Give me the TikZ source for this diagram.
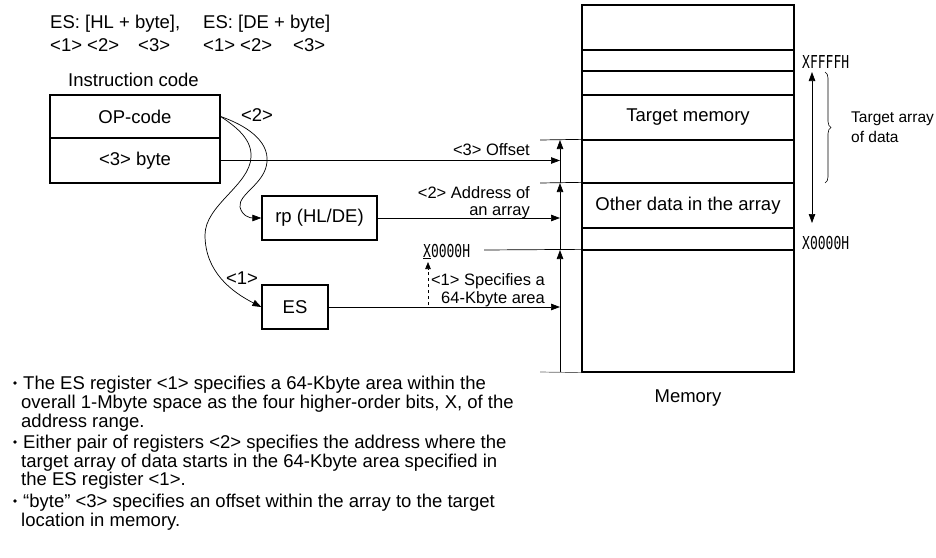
\documentclass[tikz,border=0pt]{standalone}
\usepackage{fontspec}
\setmainfont{Liberation Sans}
\newfontfamily\addrfont[FakeStretch=0.73]{DejaVu Sans Mono}
\usetikzlibrary{arrows.meta,decorations.pathreplacing}
\begin{document}
\begin{tikzpicture}[x=1pt,y=-1pt,
  lbl/.style={inner sep=0pt,font=\fontsize{18.5}{20}\selectfont},
  slbl/.style={inner sep=0pt,font=\fontsize{16.5}{18}\selectfont},
  tlbl/.style={inner sep=0pt,font=\fontsize{15.5}{17}\selectfont},
  addr/.style={inner sep=0pt,font=\addrfont\fontsize{17.8}{19}\selectfont},
  boxn/.style={draw,line width=1.3pt,inner sep=0pt,font=\fontsize{18.5}{20}\selectfont},
  row/.style={draw,line width=1.3pt,inner sep=0pt,minimum width=212pt,font=\fontsize{18.5}{20}\selectfont},
  conn/.style={line width=0.7pt},
  arr/.style={line width=0.7pt,-{Triangle[length=9pt,width=6.5pt]}},
  darr/.style={line width=0.7pt,{Triangle[length=9pt,width=6.5pt]}-{Triangle[length=9pt,width=6.5pt]}},
  bul/.style={circle,fill,inner sep=0pt,minimum size=3.6pt}]
\useasboundingbox (0,0) rectangle (936,557);

% header text
\node[lbl,anchor=base west] (h1) at (50,28) {ES: [HL + byte],};
\node[lbl,anchor=base west] (h2) at (203,28) {ES: [DE + byte]};
\node[lbl,anchor=base west] (h3) at (50,51) {<1>};
\node[lbl,anchor=base west] (h4) at (87,51) {<2>};
\node[lbl,anchor=base west] (h5) at (138,51) {<3>};
\node[lbl,anchor=base west] (h6) at (203,51) {<1>};
\node[lbl,anchor=base west] (h7) at (240,51) {<2>};
\node[lbl,anchor=base west] (h8) at (293,51) {<3>};
\node[lbl,anchor=base west] (ic) at (68,86) {Instruction code};

% instruction code boxes
\node[boxn,minimum width=170pt,minimum height=43pt] (op) at (135,116.5) {OP-code};
\node[boxn,minimum width=170pt,minimum height=45pt] (byte) at (135,160.5) {<3> byte};

% registers
\node[boxn,minimum width=115pt,minimum height=44pt] (rp) at (319.5,218) {rp (HL/DE)};
\node[boxn,minimum width=66pt,minimum height=44pt] (es) at (295,307) {ES};

\node[lbl] (l2) at (257,115) {<2>};
\node[lbl] (l1) at (242,278) {<1>};

% curves
\draw[arr] (op.east) .. controls (245,125) and (269,140) .. (267,162)
  .. controls (265,184) and (238,194) .. (240,207)
  .. controls (242,216) and (250,218) .. (rp.west);
\draw[arr] (op.east) .. controls (238,128) and (252,140) .. (251,157)
  .. controls (250,185) and (205,205) .. (205,235)
  .. controls (205,272) and (232,292) .. (es.west);

% memory
\node[row,minimum height=45pt] (m1) at (688,27.5) {};
\node[row,minimum height=21pt] (m2) at (688,60.5) {};
\node[row,minimum height=24pt] (m3) at (688,83) {};
\node[row,minimum height=45pt] (m4) at (688,117.5) {Target memory};
\node[row,minimum height=43pt] (m5) at (688,161.5) {};
\node[row,minimum height=45pt] (m6) at (688,205.5) {Other data in the array};
\node[row,minimum height=22pt] (m7) at (688,239) {};
\node[row,minimum height=122pt] (m8) at (688,311) {};
\node[lbl] (memlbl) at (688,398) {Memory};

% vertical arrow line
\coordinate (v0) at (560,372);
\coordinate (v1) at (560,250);
\coordinate (v2) at (560,183);
\coordinate (v3) at (560,140);
\draw[arr] (v0) -- (v1);
\draw[arr] (v1) -- (v2);
\draw[arr] (v2) -- (v3);
\coordinate (t0) at (540,372);
\draw[conn,black!60] (t0) -- (m8.south west);
\coordinate (t3) at (540,140);
\coordinate (t2) at (540,183);
\coordinate (t1) at (484,250);
\draw[conn] (t3) -- (m5.north west);
\draw[conn] (t2) -- (m6.north west);
\draw[conn] (t1) -- (m8.north west);

% horizontal arrows
\draw[arr] (byte.east) -- (byte.east -| v0);
\draw[arr] (rp.east) -- (rp.east -| v0);
\draw[arr] (es.east) -- (es.east -| v0);

\node[slbl,anchor=base east] (o3) at (530,155) {<3> Offset};
\node[slbl,anchor=base east] (o2a) at (530,198) {<2> Address of};
\node[slbl,anchor=base east] (o2b) at (530,215) {an array};
\node[slbl,anchor=base east] (o1a) at (545,285) {<1> Specifies a};
\node[slbl,anchor=base east] (o1b) at (545,303) {64-Kbyte area};

\node[addr,anchor=base west] (x0l) at (423,257) {\underline{X}0000H};
\coordinate (ds) at (428,305);
\coordinate (de) at (428,262);
\draw[line width=0.7pt,dashed,-{Triangle[length=7pt,width=5.5pt]}] (ds) -- (de);

% right labels
\node[addr,anchor=base west] (xf) at (802,68) {XFFFFH};
\node[addr,anchor=base west] (x0r) at (802,249) {X0000H};
\coordinate (da1) at (812,72);
\coordinate (da2) at (812,223);
\draw[darr] (da1) -- (da2);
\coordinate (br1) at (825,72);
\coordinate (br2) at (825,183);
\draw[line width=0.6pt,decorate,decoration={brace,amplitude=6pt}] (br1) -- (br2);
\node[tlbl,anchor=base west] (ta1) at (851,122) {Target array};
\node[tlbl,anchor=base west] (ta2) at (851,142) {of data};

% bullet text
\node[bul] (b1) at (15,383) {};
\node[lbl,anchor=base west] (p1a) at (23,389) {The ES register <1> specifies a 64-Kbyte area within the};
\node[lbl,anchor=base west] (p1b) at (21,408) {overall 1-Mbyte space as the four higher-order bits, X, of the};
\node[lbl,anchor=base west] (p1c) at (21,427) {address range.};
\node[bul] (b2) at (15,442) {};
\node[lbl,anchor=base west] (p2a) at (23,448) {Either pair of registers <2> specifies the address where the};
\node[lbl,anchor=base west] (p2b) at (21,467) {target array of data starts in the 64-Kbyte area specified in};
\node[lbl,anchor=base west] (p2c) at (21,485) {the ES register <1>.};
\node[bul] (b3) at (15,501) {};
\node[lbl,anchor=base west] (p3a) at (23,507) {“byte” <3> specifies an offset within the array to the target};
\node[lbl,anchor=base west] (p3b) at (21,526) {location in memory.};
\end{tikzpicture}
\end{document}
